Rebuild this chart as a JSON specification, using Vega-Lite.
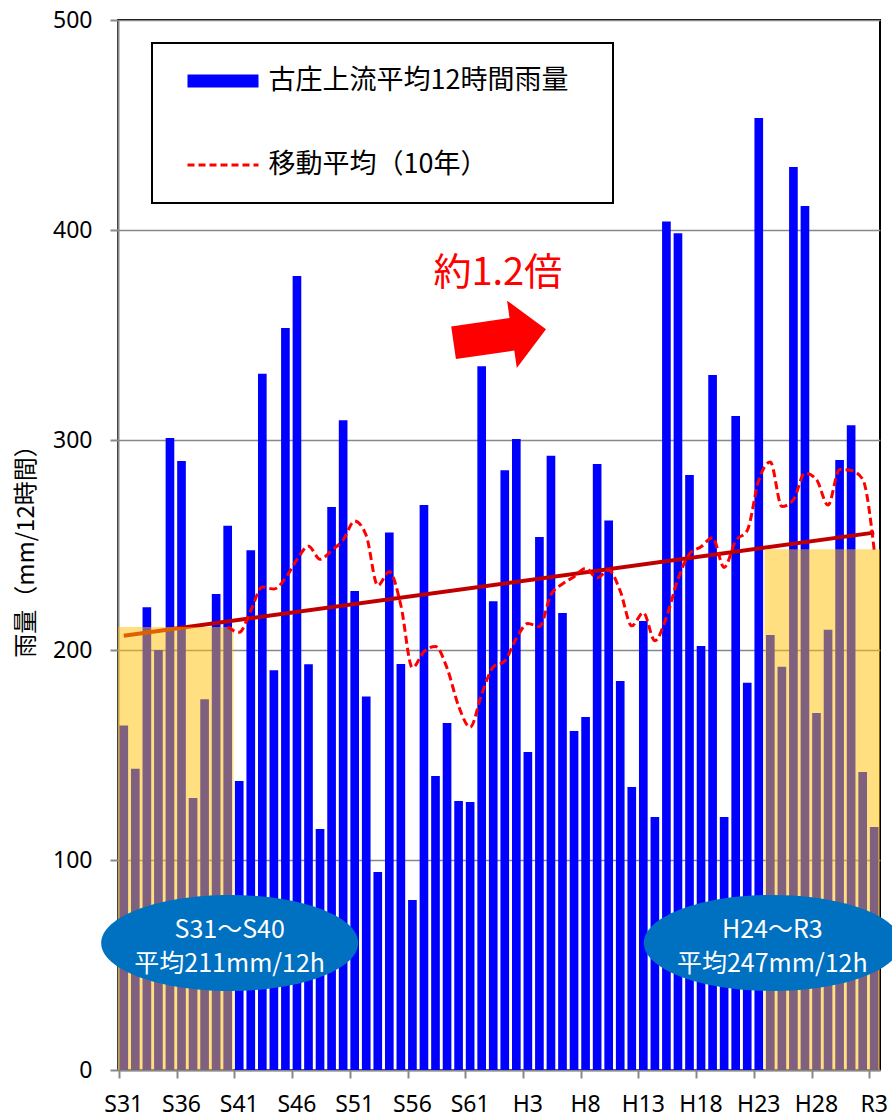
{
  "$schema": "https://vega.github.io/schema/vega-lite/v6.json",
  "width": 762,
  "height": 1050,
  "autosize": {"type": "none"},
  "padding": {"left": 118, "top": 20, "right": 12, "bottom": 48},
  "background": "white",
  "config": {
    "view": {"stroke": "black", "strokeWidth": 2},
    "font": "Noto Sans CJK JP",
    "axis": {"domainColor": "#888888", "tickColor": "#888888", "gridColor": "#888888", "labelColor": "black", "titleColor": "black"}
  },
  "datasets": {
    "rain": [
      {"era": "S31", "rain": 164.0, "ma": null},
      {"era": "S32", "rain": 143.5, "ma": null},
      {"era": "S33", "rain": 220.3, "ma": null},
      {"era": "S34", "rain": 200.0, "ma": null},
      {"era": "S35", "rain": 301.0, "ma": null},
      {"era": "S36", "rain": 290.0, "ma": null},
      {"era": "S37", "rain": 129.5, "ma": null},
      {"era": "S38", "rain": 176.5, "ma": null},
      {"era": "S39", "rain": 226.7, "ma": null},
      {"era": "S40", "rain": 259.2, "ma": 211.1},
      {"era": "S41", "rain": 137.6, "ma": 208.4},
      {"era": "S42", "rain": 247.5, "ma": 218.8},
      {"era": "S43", "rain": 331.6, "ma": 230.0},
      {"era": "S44", "rain": 190.3, "ma": 229.0},
      {"era": "S45", "rain": 353.3, "ma": 234.2},
      {"era": "S46", "rain": 378.1, "ma": 243.0},
      {"era": "S47", "rain": 193.2, "ma": 249.4},
      {"era": "S48", "rain": 114.8, "ma": 243.2},
      {"era": "S49", "rain": 268.1, "ma": 247.4},
      {"era": "S50", "rain": 309.4, "ma": 252.4},
      {"era": "S51", "rain": 228.1, "ma": 261.4},
      {"era": "S52", "rain": 177.8, "ma": 254.5},
      {"era": "S53", "rain": 94.3, "ma": 230.7},
      {"era": "S54", "rain": 256.0, "ma": 237.3},
      {"era": "S55", "rain": 193.3, "ma": 221.3},
      {"era": "S56", "rain": 81.0, "ma": 191.6},
      {"era": "S57", "rain": 269.0, "ma": 199.2},
      {"era": "S58", "rain": 140.0, "ma": 201.7},
      {"era": "S59", "rain": 165.2, "ma": 191.4},
      {"era": "S60", "rain": 128.1, "ma": 173.3},
      {"era": "S61", "rain": 127.6, "ma": 163.2},
      {"era": "S62", "rain": 335.1, "ma": 179.0},
      {"era": "S63", "rain": 223.2, "ma": 191.9},
      {"era": "H1", "rain": 285.6, "ma": 194.8},
      {"era": "H2", "rain": 300.5, "ma": 205.5},
      {"era": "H3", "rain": 151.4, "ma": 212.6},
      {"era": "H4", "rain": 253.8, "ma": 211.1},
      {"era": "H5", "rain": 292.5, "ma": 226.3},
      {"era": "H6", "rain": 217.6, "ma": 231.5},
      {"era": "H7", "rain": 161.4, "ma": 234.9},
      {"era": "H8", "rain": 168.1, "ma": 238.9},
      {"era": "H9", "rain": 288.6, "ma": 234.3},
      {"era": "H10", "rain": 261.7, "ma": 238.1},
      {"era": "H11", "rain": 185.2, "ma": 228.1},
      {"era": "H12", "rain": 134.8, "ma": 211.5},
      {"era": "H13", "rain": 213.8, "ma": 217.8},
      {"era": "H14", "rain": 120.5, "ma": 204.4},
      {"era": "H15", "rain": 404.0, "ma": 215.6},
      {"era": "H16", "rain": 398.4, "ma": 233.7},
      {"era": "H17", "rain": 283.3, "ma": 245.8},
      {"era": "H18", "rain": 201.9, "ma": 249.2},
      {"era": "H19", "rain": 331.0, "ma": 253.5},
      {"era": "H20", "rain": 120.5, "ma": 239.3},
      {"era": "H21", "rain": 311.4, "ma": 252.0},
      {"era": "H22", "rain": 184.4, "ma": 256.9},
      {"era": "H23", "rain": 453.3, "ma": 280.9},
      {"era": "H24", "rain": 207.1, "ma": 289.5},
      {"era": "H25", "rain": 192.0, "ma": 268.3},
      {"era": "H26", "rain": 430.0, "ma": 271.5},
      {"era": "H27", "rain": 411.4, "ma": 284.3},
      {"era": "H28", "rain": 170.0, "ma": 281.1},
      {"era": "H29", "rain": 209.6, "ma": 269.0},
      {"era": "H30", "rain": 290.5, "ma": 286.0},
      {"era": "R1", "rain": 307.0, "ma": 285.5},
      {"era": "R2", "rain": 141.9, "ma": 281.3},
      {"era": "R3", "rain": 115.7, "ma": 247.5}
    ],
    "overlay": [
      {"x0": "S31", "x1": "S40", "top": 211},
      {"x0": "H24", "x1": "R3", "top": 248}
    ],
    "trend": [
      {"era": "S31", "trend": 206.8},
      {"era": "R3", "trend": 255.9}
    ],
    "ellipse": [
      {"era": "S40", "ey": 60.5, "ty": 66.7, "label": "S31～S40\n平均211mm/12h"},
      {"era": "H24", "ey": 60.5, "ty": 66.7, "label": "H24～R3\n平均247mm/12h"}
    ],
    "note": [
      {"era": "H1", "ay": 349.5, "ty": 379, "label": "約1.2倍"}
    ]
  },
  "layer": [
    {
      "data": {"name": "rain"},
      "mark": {"type": "bar"},
      "encoding": {
        "x": {
          "field": "era", "type": "nominal", "sort": null,
          "scale": {
            "domain": ["S31","S32","S33","S34","S35","S36","S37","S38","S39","S40","S41","S42","S43","S44","S45","S46","S47","S48","S49","S50","S51","S52","S53","S54","S55","S56","S57","S58","S59","S60","S61","S62","S63","H1","H2","H3","H4","H5","H6","H7","H8","H9","H10","H11","H12","H13","H14","H15","H16","H17","H18","H19","H20","H21","H22","H23","H24","H25","H26","H27","H28","H29","H30","R1","R2","R3"],
            "paddingInner": 0.25, "paddingOuter": 0.125
          },
          "axis": {
            "title": null,
            "values": ["S31","S36","S41","S46","S51","S56","S61","H3","H8","H13","H18","H23","H28","R3"],
            "bandPosition": 0,
            "tickSize": 8, "tickWidth": 2, "domainWidth": 2,
            "labelAngle": 0, "labelFont": "Noto Sans", "labelFontSize": 23, "labelPadding": 15,
            "grid": false
          }
        },
        "y": {
          "field": "rain", "type": "quantitative",
          "scale": {"domain": [0, 500], "nice": false},
          "axis": {
            "title": "雨量（mm/12時間）",
            "values": [0, 100, 200, 300, 400, 500],
            "tickSize": 8, "tickWidth": 2, "domainWidth": 2,
            "labelFont": "Noto Sans", "labelFontSize": 23, "labelPadding": 18,
            "titleFont": "Noto Sans CJK JP", "titleFontSize": 24, "titleFontWeight": "normal", "titlePadding": 14,
            "grid": true, "gridWidth": 1.5
          }
        },
        "color": {
          "datum": "古庄上流平均12時間雨量",
          "scale": {"domain": ["古庄上流平均12時間雨量", "移動平均（10年）"], "range": ["#0000FF", "#FF0000"]},
          "legend": {
            "orient": "none", "legendX": 34, "legendY": 23,
            "title": null,
            "symbolType": "stroke", "symbolSize": 5041, "symbolStrokeWidth": 13,
            "labelFont": "Noto Sans CJK JP", "labelFontSize": 27, "labelColor": "black", "labelLimit": 0,
            "padding": 24.5, "rowPadding": 43,
            "symbolOffset": 33, "labelOffset": 32,
            "strokeColor": "black", "fillColor": "white",
            "labelExpr": "datum.label + '⠀'",
            "encode": {
              "symbols": {"update": {
                "strokeDash": {"signal": "datum.value === '移動平均（10年）' ? [7,4] : [1,0]"},
                "strokeWidth": {"signal": "datum.value === '移動平均（10年）' ? 3 : 13"},
                "stroke": {"signal": "datum.value === '移動平均（10年）' ? '#FF0000' : '#0000FF'"},
                "opacity": {"value": 1}
              }},
              "legend": {"update": {"strokeWidth": {"value": 2}}}
            }
          }
        }
      }
    },
    {
      "data": {"name": "trend"},
      "mark": {"type": "line", "color": "#C00000", "strokeWidth": 4},
      "encoding": {
        "x": {"field": "era", "type": "nominal", "sort": null},
        "y": {"field": "trend", "type": "quantitative"}
      }
    },
    {
      "data": {"name": "overlay"},
      "mark": {"type": "rect", "color": "#FFC000", "opacity": 0.5},
      "encoding": {
        "x": {"field": "x0", "type": "nominal", "sort": null, "bandPosition": -0.1667},
        "x2": {"field": "x1", "bandPosition": 1.1667},
        "y": {"field": "top", "type": "quantitative"},
        "y2": {"datum": 0}
      }
    },
    {
      "data": {"name": "rain"},
      "mark": {"type": "line", "strokeDash": [8, 4], "strokeWidth": 3, "interpolate": "monotone"},
      "encoding": {
        "x": {"field": "era", "type": "nominal", "sort": null},
        "y": {"field": "ma", "type": "quantitative"},
        "color": {"datum": "移動平均（10年）"}
      }
    },
    {
      "data": {"name": "ellipse"},
      "mark": {
        "type": "point", "filled": true, "color": "#0070C0", "opacity": 1, "strokeWidth": 0,
        "shape": "M1,0 C1,0.2063 0.5523,0.3735 0,0.3735 C-0.5523,0.3735 -1,0.2063 -1,0 C-1,-0.2063 -0.5523,-0.3735 0,-0.3735 C0.5523,-0.3735 1,-0.2063 1,0 Z",
        "size": 66049, "xOffset": 2
      },
      "encoding": {
        "x": {"field": "era", "type": "nominal", "sort": null},
        "y": {"field": "ey", "type": "quantitative"}
      }
    },
    {
      "data": {"name": "ellipse"},
      "mark": {"type": "text", "color": "white", "font": "Noto Sans CJK JP", "fontSize": 25, "lineBreak": "\n", "lineHeight": 34, "baseline": "middle", "align": "center", "xOffset": 2},
      "encoding": {
        "x": {"field": "era", "type": "nominal", "sort": null},
        "y": {"field": "ty", "type": "quantitative"},
        "text": {"field": "label"}
      }
    },
    {
      "data": {"name": "note"},
      "mark": {
        "type": "point", "filled": true, "color": "#FF0000", "opacity": 1, "strokeWidth": 0,
        "shape": "M-1,-0.353 L0.263,-0.353 L0.263,-0.728 L1,0 L0.263,0.728 L0.263,0.353 L-1,0.353 Z",
        "size": 8724, "angle": -8.25, "xOffset": -5
      },
      "encoding": {
        "x": {"field": "era", "type": "nominal", "sort": null},
        "y": {"field": "ay", "type": "quantitative"}
      }
    },
    {
      "data": {"name": "note"},
      "mark": {"type": "text", "color": "#FF0000", "font": "Noto Sans CJK JP", "fontSize": 38, "baseline": "middle", "align": "center", "dx": -7},
      "encoding": {
        "x": {"field": "era", "type": "nominal", "sort": null},
        "y": {"field": "ty", "type": "quantitative"},
        "text": {"field": "label"}
      }
    }
  ]
}
